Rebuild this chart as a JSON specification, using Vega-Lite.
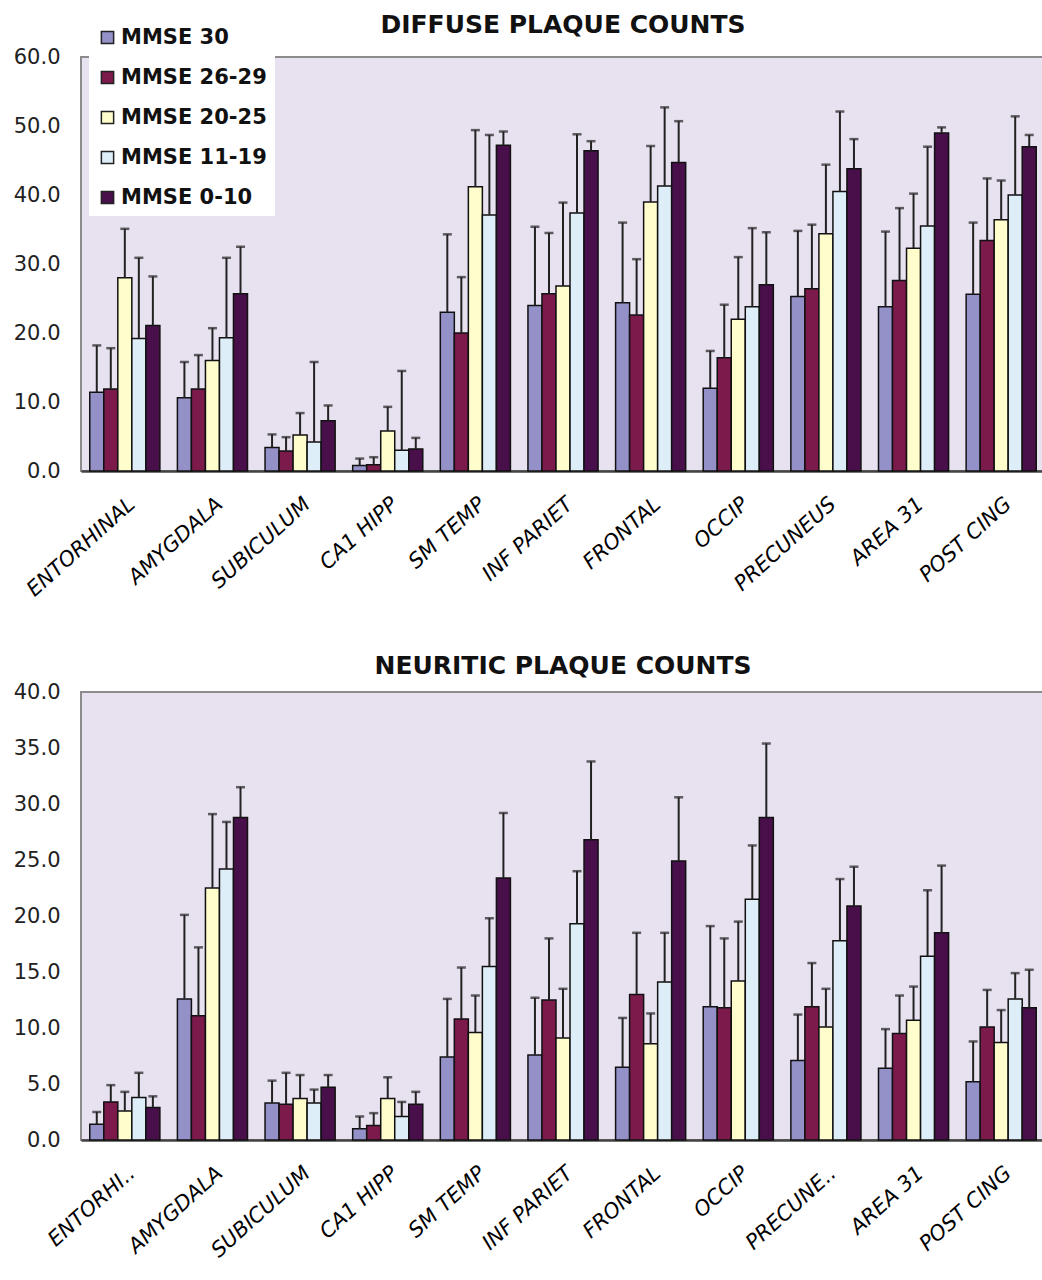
{
"$schema": "https://vega.github.io/schema/vega-lite/v6.json",
"padding": {"left": 12, "top": 12, "right": 0, "bottom": 0},
"config": {
  "font": "DejaVu Sans",
  "view": {"fill": "#E8E2F0", "stroke": "#8C8C8C", "strokeWidth": 2},
  "axis": {"ticks": false, "grid": false},
  "title": {"fontSize": 25, "fontWeight": "bold", "color": "#111", "frame": "group", "anchor": "middle"}
},
"datasets": {
  "diffuse": [
    {"region":"ENTORHINAL","group":"MMSE 30","value":11.4,"err":18.2},
    {"region":"ENTORHINAL","group":"MMSE 26-29","value":11.9,"err":17.8},
    {"region":"ENTORHINAL","group":"MMSE 20-25","value":28.0,"err":35.1},
    {"region":"ENTORHINAL","group":"MMSE 11-19","value":19.2,"err":30.9},
    {"region":"ENTORHINAL","group":"MMSE 0-10","value":21.1,"err":28.2},
    {"region":"AMYGDALA","group":"MMSE 30","value":10.6,"err":15.8},
    {"region":"AMYGDALA","group":"MMSE 26-29","value":11.9,"err":16.8},
    {"region":"AMYGDALA","group":"MMSE 20-25","value":16.0,"err":20.7},
    {"region":"AMYGDALA","group":"MMSE 11-19","value":19.3,"err":30.9},
    {"region":"AMYGDALA","group":"MMSE 0-10","value":25.7,"err":32.5},
    {"region":"SUBICULUM","group":"MMSE 30","value":3.4,"err":5.3},
    {"region":"SUBICULUM","group":"MMSE 26-29","value":2.9,"err":4.9},
    {"region":"SUBICULUM","group":"MMSE 20-25","value":5.2,"err":8.4},
    {"region":"SUBICULUM","group":"MMSE 11-19","value":4.2,"err":15.8},
    {"region":"SUBICULUM","group":"MMSE 0-10","value":7.3,"err":9.5},
    {"region":"CA1 HIPP","group":"MMSE 30","value":0.8,"err":1.8},
    {"region":"CA1 HIPP","group":"MMSE 26-29","value":0.9,"err":2.0},
    {"region":"CA1 HIPP","group":"MMSE 20-25","value":5.8,"err":9.3},
    {"region":"CA1 HIPP","group":"MMSE 11-19","value":3.0,"err":14.5},
    {"region":"CA1 HIPP","group":"MMSE 0-10","value":3.2,"err":4.8},
    {"region":"SM TEMP","group":"MMSE 30","value":23.0,"err":34.3},
    {"region":"SM TEMP","group":"MMSE 26-29","value":20.0,"err":28.1},
    {"region":"SM TEMP","group":"MMSE 20-25","value":41.2,"err":49.4},
    {"region":"SM TEMP","group":"MMSE 11-19","value":37.1,"err":48.7},
    {"region":"SM TEMP","group":"MMSE 0-10","value":47.2,"err":49.2},
    {"region":"INF PARIET","group":"MMSE 30","value":24.0,"err":35.4},
    {"region":"INF PARIET","group":"MMSE 26-29","value":25.7,"err":34.5},
    {"region":"INF PARIET","group":"MMSE 20-25","value":26.8,"err":38.9},
    {"region":"INF PARIET","group":"MMSE 11-19","value":37.4,"err":48.8},
    {"region":"INF PARIET","group":"MMSE 0-10","value":46.4,"err":47.8},
    {"region":"FRONTAL","group":"MMSE 30","value":24.4,"err":36.0},
    {"region":"FRONTAL","group":"MMSE 26-29","value":22.6,"err":30.7},
    {"region":"FRONTAL","group":"MMSE 20-25","value":39.0,"err":47.1},
    {"region":"FRONTAL","group":"MMSE 11-19","value":41.3,"err":52.7},
    {"region":"FRONTAL","group":"MMSE 0-10","value":44.7,"err":50.7},
    {"region":"OCCIP","group":"MMSE 30","value":12.0,"err":17.4},
    {"region":"OCCIP","group":"MMSE 26-29","value":16.4,"err":24.1},
    {"region":"OCCIP","group":"MMSE 20-25","value":22.0,"err":31.0},
    {"region":"OCCIP","group":"MMSE 11-19","value":23.8,"err":35.2},
    {"region":"OCCIP","group":"MMSE 0-10","value":27.0,"err":34.6},
    {"region":"PRECUNEUS","group":"MMSE 30","value":25.3,"err":34.8},
    {"region":"PRECUNEUS","group":"MMSE 26-29","value":26.4,"err":35.7},
    {"region":"PRECUNEUS","group":"MMSE 20-25","value":34.4,"err":44.4},
    {"region":"PRECUNEUS","group":"MMSE 11-19","value":40.5,"err":52.1},
    {"region":"PRECUNEUS","group":"MMSE 0-10","value":43.8,"err":48.1},
    {"region":"AREA 31","group":"MMSE 30","value":23.8,"err":34.7},
    {"region":"AREA 31","group":"MMSE 26-29","value":27.6,"err":38.1},
    {"region":"AREA 31","group":"MMSE 20-25","value":32.3,"err":40.2},
    {"region":"AREA 31","group":"MMSE 11-19","value":35.5,"err":47.0},
    {"region":"AREA 31","group":"MMSE 0-10","value":49.0,"err":49.8},
    {"region":"POST CING","group":"MMSE 30","value":25.6,"err":36.0},
    {"region":"POST CING","group":"MMSE 26-29","value":33.4,"err":42.4},
    {"region":"POST CING","group":"MMSE 20-25","value":36.4,"err":42.1},
    {"region":"POST CING","group":"MMSE 11-19","value":40.0,"err":51.4},
    {"region":"POST CING","group":"MMSE 0-10","value":47.0,"err":48.7}
  ],
  "neuritic": [
    {"region":"ENTORHINAL","group":"MMSE 30","value":1.4,"err":2.5},
    {"region":"ENTORHINAL","group":"MMSE 26-29","value":3.4,"err":4.9},
    {"region":"ENTORHINAL","group":"MMSE 20-25","value":2.6,"err":4.3},
    {"region":"ENTORHINAL","group":"MMSE 11-19","value":3.8,"err":6.0},
    {"region":"ENTORHINAL","group":"MMSE 0-10","value":2.9,"err":3.9},
    {"region":"AMYGDALA","group":"MMSE 30","value":12.6,"err":20.1},
    {"region":"AMYGDALA","group":"MMSE 26-29","value":11.1,"err":17.2},
    {"region":"AMYGDALA","group":"MMSE 20-25","value":22.5,"err":29.1},
    {"region":"AMYGDALA","group":"MMSE 11-19","value":24.2,"err":28.4},
    {"region":"AMYGDALA","group":"MMSE 0-10","value":28.8,"err":31.5},
    {"region":"SUBICULUM","group":"MMSE 30","value":3.3,"err":5.3},
    {"region":"SUBICULUM","group":"MMSE 26-29","value":3.2,"err":6.0},
    {"region":"SUBICULUM","group":"MMSE 20-25","value":3.7,"err":5.8},
    {"region":"SUBICULUM","group":"MMSE 11-19","value":3.3,"err":4.5},
    {"region":"SUBICULUM","group":"MMSE 0-10","value":4.7,"err":5.8},
    {"region":"CA1 HIPP","group":"MMSE 30","value":1.0,"err":2.1},
    {"region":"CA1 HIPP","group":"MMSE 26-29","value":1.3,"err":2.4},
    {"region":"CA1 HIPP","group":"MMSE 20-25","value":3.7,"err":5.6},
    {"region":"CA1 HIPP","group":"MMSE 11-19","value":2.1,"err":3.4},
    {"region":"CA1 HIPP","group":"MMSE 0-10","value":3.2,"err":4.3},
    {"region":"SM TEMP","group":"MMSE 30","value":7.4,"err":12.6},
    {"region":"SM TEMP","group":"MMSE 26-29","value":10.8,"err":15.4},
    {"region":"SM TEMP","group":"MMSE 20-25","value":9.6,"err":12.9},
    {"region":"SM TEMP","group":"MMSE 11-19","value":15.5,"err":19.8},
    {"region":"SM TEMP","group":"MMSE 0-10","value":23.4,"err":29.2},
    {"region":"INF PARIET","group":"MMSE 30","value":7.6,"err":12.7},
    {"region":"INF PARIET","group":"MMSE 26-29","value":12.5,"err":18.0},
    {"region":"INF PARIET","group":"MMSE 20-25","value":9.1,"err":13.5},
    {"region":"INF PARIET","group":"MMSE 11-19","value":19.3,"err":24.0},
    {"region":"INF PARIET","group":"MMSE 0-10","value":26.8,"err":33.8},
    {"region":"FRONTAL","group":"MMSE 30","value":6.5,"err":10.9},
    {"region":"FRONTAL","group":"MMSE 26-29","value":13.0,"err":18.5},
    {"region":"FRONTAL","group":"MMSE 20-25","value":8.6,"err":11.3},
    {"region":"FRONTAL","group":"MMSE 11-19","value":14.1,"err":18.5},
    {"region":"FRONTAL","group":"MMSE 0-10","value":24.9,"err":30.6},
    {"region":"OCCIP","group":"MMSE 30","value":11.9,"err":19.1},
    {"region":"OCCIP","group":"MMSE 26-29","value":11.8,"err":18.0},
    {"region":"OCCIP","group":"MMSE 20-25","value":14.2,"err":19.5},
    {"region":"OCCIP","group":"MMSE 11-19","value":21.5,"err":26.3},
    {"region":"OCCIP","group":"MMSE 0-10","value":28.8,"err":35.4},
    {"region":"PRECUNEUS","group":"MMSE 30","value":7.1,"err":11.2},
    {"region":"PRECUNEUS","group":"MMSE 26-29","value":11.9,"err":15.8},
    {"region":"PRECUNEUS","group":"MMSE 20-25","value":10.1,"err":13.5},
    {"region":"PRECUNEUS","group":"MMSE 11-19","value":17.8,"err":23.3},
    {"region":"PRECUNEUS","group":"MMSE 0-10","value":20.9,"err":24.4},
    {"region":"AREA 31","group":"MMSE 30","value":6.4,"err":9.9},
    {"region":"AREA 31","group":"MMSE 26-29","value":9.5,"err":12.9},
    {"region":"AREA 31","group":"MMSE 20-25","value":10.7,"err":13.7},
    {"region":"AREA 31","group":"MMSE 11-19","value":16.4,"err":22.3},
    {"region":"AREA 31","group":"MMSE 0-10","value":18.5,"err":24.5},
    {"region":"POST CING","group":"MMSE 30","value":5.2,"err":8.8},
    {"region":"POST CING","group":"MMSE 26-29","value":10.1,"err":13.4},
    {"region":"POST CING","group":"MMSE 20-25","value":8.7,"err":11.6},
    {"region":"POST CING","group":"MMSE 11-19","value":12.6,"err":14.9},
    {"region":"POST CING","group":"MMSE 0-10","value":11.8,"err":15.2}
  ]
},
"resolve": {"scale": {"color": "independent", "x": "independent", "y": "independent", "xOffset": "independent"}, "legend": {"color": "independent"}},
"spacing": 51,
"vconcat": [
  {
    "width": 964, "height": 414,
    "title": {"text": "DIFFUSE PLAQUE COUNTS", "offset": -19},
    "data": {"name": "diffuse"},
    "encoding": {
      "x": {"field": "region", "type": "nominal",
        "sort": ["ENTORHINAL","AMYGDALA","SUBICULUM","CA1 HIPP","SM TEMP","INF PARIET","FRONTAL","OCCIP","PRECUNEUS","AREA 31","POST CING"],
        "scale": {"paddingInner": 0.2, "paddingOuter": 0.1},
        "axis": {"title": null, "labelAngle": -42, "labelFontSize": 21, "labelFontStyle": "italic", "labelColor": "#000", "labelPadding": 22, "domainColor": "#444", "domainWidth": 2.5}},
      "xOffset": {"field": "group", "type": "nominal", "sort": ["MMSE 30","MMSE 26-29","MMSE 20-25","MMSE 11-19","MMSE 0-10"], "scale": {"paddingInner": 0, "paddingOuter": 0}}
    },
    "layer": [
      {"mark": {"type": "bar", "stroke": "#111", "strokeWidth": 1.5},
       "encoding": {
         "y": {"field": "value", "type": "quantitative", "scale": {"domain": [0, 60]},
           "axis": {"title": null, "values": [0,10,20,30,40,50,60], "format": ".1f", "labelFontSize": 21, "labelColor": "#222", "labelPadding": 21, "domain": false}},
         "color": {"field": "group", "type": "nominal",
           "scale": {"domain": ["MMSE 30","MMSE 26-29","MMSE 20-25","MMSE 11-19","MMSE 0-10"], "range": ["#9490C8","#7C1A4C","#FFFDCC","#DDEEF8","#480F4A"]},
           "legend": {"title": null, "orient": "none", "legendX": 8, "legendY": -38, "fillColor": "white", "padding": 8, "labelFontSize": 21, "labelFontWeight": "bold", "labelColor": "#111", "symbolType": "square", "symbolSize": 150, "symbolStrokeColor": "#222", "symbolStrokeWidth": 1.5, "rowPadding": 18, "labelOffset": 3}}
       }},
      {"mark": {"type": "rule", "color": "#222", "strokeWidth": 2},
       "encoding": {"y": {"field": "value", "type": "quantitative", "axis": {"title": null}}, "y2": {"field": "err"}}},
      {"mark": {"type": "tick", "color": "#222", "thickness": 2.5, "size": 9},
       "encoding": {"y": {"field": "err", "type": "quantitative", "axis": {"title": null}}}}
    ]
  },
  {
    "width": 964, "height": 448,
    "title": {"text": "NEURITIC PLAQUE COUNTS", "offset": 2},
    "data": {"name": "neuritic"},
    "encoding": {
      "x": {"field": "region", "type": "nominal",
        "sort": ["ENTORHINAL","AMYGDALA","SUBICULUM","CA1 HIPP","SM TEMP","INF PARIET","FRONTAL","OCCIP","PRECUNEUS","AREA 31","POST CING"],
        "scale": {"paddingInner": 0.2, "paddingOuter": 0.1},
        "axis": {"title": null, "labelAngle": -42, "labelFontSize": 21, "labelFontStyle": "italic", "labelColor": "#000", "labelPadding": 22, "domainColor": "#444", "domainWidth": 2.5,
          "labelExpr": "datum.label == 'ENTORHINAL' ? 'ENTORHI..' : datum.label == 'PRECUNEUS' ? 'PRECUNE..' : datum.label"}},
      "xOffset": {"field": "group", "type": "nominal", "sort": ["MMSE 30","MMSE 26-29","MMSE 20-25","MMSE 11-19","MMSE 0-10"], "scale": {"paddingInner": 0, "paddingOuter": 0}}
    },
    "layer": [
      {"mark": {"type": "bar", "stroke": "#111", "strokeWidth": 1.5},
       "encoding": {
         "y": {"field": "value", "type": "quantitative", "scale": {"domain": [0, 40]},
           "axis": {"title": null, "values": [0,5,10,15,20,25,30,35,40], "format": ".1f", "labelFontSize": 21, "labelColor": "#222", "labelPadding": 21, "domain": false}},
         "color": {"field": "group", "type": "nominal",
           "scale": {"domain": ["MMSE 30","MMSE 26-29","MMSE 20-25","MMSE 11-19","MMSE 0-10"], "range": ["#9490C8","#7C1A4C","#FFFDCC","#DDEEF8","#480F4A"]},
           "legend": null}
       }},
      {"mark": {"type": "rule", "color": "#222", "strokeWidth": 2},
       "encoding": {"y": {"field": "value", "type": "quantitative", "axis": {"title": null}}, "y2": {"field": "err"}}},
      {"mark": {"type": "tick", "color": "#222", "thickness": 2.5, "size": 9},
       "encoding": {"y": {"field": "err", "type": "quantitative", "axis": {"title": null}}}}
    ]
  }
]
}
